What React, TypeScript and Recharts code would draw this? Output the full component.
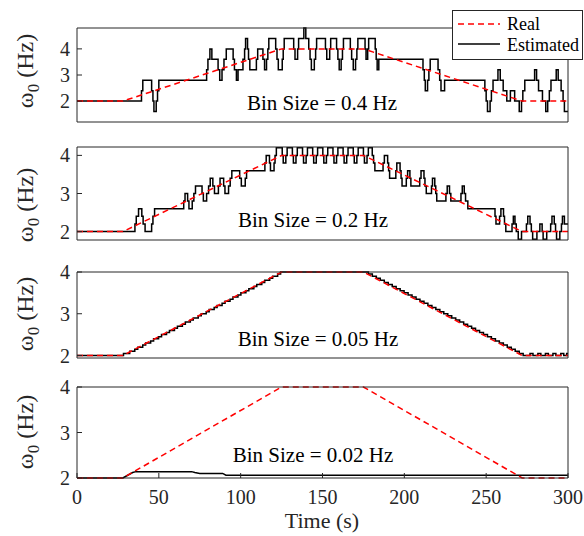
import React from 'react';
import { LineChart, Line, XAxis, YAxis } from 'recharts';

const FONT = "'Liberation Serif', 'Times New Roman', Times, 'DejaVu Serif', serif";
const INK = '#262626';

const timeTicks = [0, 50, 100, 150, 200, 250, 300];
const freqTicks = [2, 3, 4];

// true frequency profile
const realTime = [0, 28, 125, 175, 272, 300];
const realFreq = [2, 2, 4, 4, 2, 2];

// estimated frequency, [time (s), freq (Hz)] at every change
const est04: [number, number][] = [
  [0, 2.0], [39.4, 2.4], [40.2, 2.8],
  [45.6, 2.4], [46.4, 2.0], [47.0, 1.6], [48.4, 2.0], [49.2, 2.4], [50.0, 2.8],
  [79.2, 3.2], [80.0, 3.6], [81.2, 4.0], [82.4, 3.6],
  [86.2, 3.2], [87.2, 2.8], [88.6, 3.2], [89.8, 3.6], [91.2, 4.0],
  [95.4, 3.6], [96.2, 3.2], [97.4, 2.8], [98.4, 3.2],
  [101.4, 3.6], [102.4, 4.0], [103.0, 4.4], [104.2, 4.0], [104.8, 3.6], [105.6, 3.2],
  [109.6, 3.6], [110.4, 4.0], [113.6, 3.6], [114.6, 3.2], [115.8, 3.6], [116.6, 4.0], [117.2, 4.4],
  [121.4, 4.0], [122.2, 3.6], [123.0, 3.2], [125.4, 3.6], [126.0, 4.0], [126.6, 4.4],
  [132.4, 4.0], [133.2, 3.6], [134.8, 4.0], [135.4, 4.4], [138.6, 4.8], [139.8, 4.4],
  [141.6, 4.0], [142.4, 3.6], [143.2, 3.2], [145.0, 3.6], [145.8, 4.0], [146.4, 4.4],
  [151.8, 4.0], [152.6, 3.6], [154.4, 4.0], [155.0, 4.4],
  [158.6, 4.0], [159.4, 3.6], [160.2, 3.2], [161.4, 3.6], [162.2, 4.0], [162.8, 4.4],
  [167.0, 4.0], [167.8, 3.6], [168.8, 3.2], [170.2, 3.6], [171.0, 4.0], [171.6, 4.4],
  [176.0, 4.0], [176.6, 3.6], [177.6, 4.0], [178.2, 4.4],
  [182.2, 4.0], [182.8, 3.6], [183.4, 3.2], [184.4, 3.6],
  [211.4, 3.2], [212.2, 2.8], [212.8, 2.4], [214.2, 2.8], [215.0, 3.2], [215.8, 3.6],
  [220.6, 3.2], [221.6, 2.8], [222.4, 2.4], [224.6, 2.8],
  [249.2, 2.4], [250.0, 2.0], [250.8, 1.6], [252.4, 2.0], [253.2, 2.4], [254.2, 2.8],
  [257.2, 3.2], [258.6, 2.8], [260.4, 2.4], [262.6, 2.0], [264.8, 2.4], [267.4, 2.0],
  [270.2, 1.6], [271.6, 2.0], [272.4, 2.4], [273.6, 2.8], [279.6, 3.2], [280.8, 2.8],
  [282.0, 2.4], [284.4, 2.0], [286.4, 1.6], [287.6, 2.0], [288.6, 2.4], [289.6, 2.8],
  [292.8, 3.2], [294.0, 2.8], [295.8, 2.4], [297.0, 2.0], [297.8, 1.6], [300, 1.6],
];

const est02: [number, number][] = [
  [0, 2.0], [35.4, 2.2], [36.2, 2.4], [37.6, 2.6], [39.6, 2.4], [40.4, 2.2], [41.6, 2.0],
  [45.6, 2.2], [46.4, 2.4], [47.4, 2.6],
  [65.2, 2.8], [66.0, 3.0], [67.6, 2.8], [68.4, 2.6], [70.4, 2.8], [71.4, 3.0], [72.4, 3.2],
  [76.4, 3.0], [77.2, 2.8], [79.2, 3.0], [80.4, 3.2], [81.4, 3.4], [83.0, 3.2], [84.0, 3.0],
  [86.4, 3.2], [87.4, 3.4], [89.6, 3.2], [90.4, 3.0], [92.6, 3.2], [93.6, 3.4], [94.6, 3.6],
  [99.4, 3.4], [100.4, 3.2], [102.8, 3.4], [103.6, 3.6],
  [114.8, 3.8], [115.6, 4.0], [117.6, 3.8], [118.2, 3.6], [120.4, 3.8], [121.0, 4.0], [121.8, 4.2],
  [125.4, 4.0], [126.0, 3.8], [127.6, 4.0], [128.4, 4.2],
  [131.6, 4.0], [132.2, 3.8], [133.8, 4.0], [134.6, 4.2],
  [137.8, 4.0], [138.4, 3.8], [140.0, 4.0], [140.8, 4.2],
  [144.0, 4.0], [144.6, 3.8], [146.2, 4.0], [147.0, 4.2],
  [150.2, 4.0], [150.8, 3.8], [152.4, 4.0], [153.2, 4.2],
  [156.4, 4.0], [157.0, 3.8], [158.6, 4.0], [159.4, 4.2],
  [162.6, 4.0], [163.2, 3.8], [164.8, 4.0], [165.6, 4.2],
  [168.8, 4.0], [169.4, 3.8], [171.0, 4.0], [171.8, 4.2],
  [175.0, 4.0], [175.6, 3.8], [177.2, 4.0], [178.0, 4.2],
  [180.4, 4.0], [181.2, 3.8], [182.0, 3.6],
  [187.0, 3.8], [187.8, 4.0], [189.8, 3.8], [190.4, 3.6], [191.0, 3.4],
  [194.8, 3.6], [195.4, 3.8], [197.4, 3.6], [198.0, 3.4], [198.6, 3.2],
  [201.2, 3.4], [202.0, 3.6], [203.4, 3.4], [204.0, 3.2],
  [209.4, 3.4], [210.2, 3.6], [212.0, 3.4], [212.6, 3.2], [213.4, 3.0],
  [216.6, 3.2], [217.2, 3.4], [218.6, 3.2], [219.2, 3.0], [219.8, 2.8],
  [225.4, 3.0], [226.2, 3.2], [227.6, 3.0], [228.4, 2.8],
  [234.6, 3.0], [235.4, 3.2], [236.6, 3.0], [237.4, 2.8], [238.8, 2.6],
  [255.4, 2.4], [256.0, 2.2], [258.2, 2.4], [259.0, 2.6], [260.6, 2.4], [261.2, 2.2], [262.0, 2.0],
  [265.8, 2.2], [266.6, 2.4], [267.6, 2.2], [268.4, 2.0], [269.6, 1.8], [271.6, 2.0],
  [274.6, 2.2], [275.4, 2.4], [276.8, 2.2], [277.6, 2.0], [278.4, 1.8], [281.0, 2.0],
  [282.8, 2.2], [284.2, 2.0], [284.8, 1.8], [287.0, 2.0], [289.4, 2.2], [290.2, 2.4],
  [291.6, 2.2], [292.4, 2.0], [293.0, 1.8], [295.0, 2.0], [296.0, 2.2], [296.6, 2.4],
  [297.8, 2.2], [300, 2.2],
];

const est005: [number, number][] = [
  [0, 2.0], [28.4, 2.05], [32.2, 2.1], [35.3, 2.15], [37.1, 2.2], [40.15, 2.25], [41.95, 2.3],
  [45.0, 2.35], [46.8, 2.4], [49.85, 2.45], [51.65, 2.5], [54.7, 2.55], [56.5, 2.6],
  [59.55, 2.65], [61.35, 2.7], [64.4, 2.75], [66.2, 2.8], [69.25, 2.85], [71.05, 2.9],
  [74.1, 2.95], [75.9, 3.0], [78.95, 3.05], [80.75, 3.1], [83.8, 3.15], [85.6, 3.2],
  [88.65, 3.25], [90.45, 3.3], [93.5, 3.35], [95.3, 3.4], [98.35, 3.45], [100.15, 3.5],
  [103.2, 3.55], [105.0, 3.6], [108.05, 3.65], [109.85, 3.7], [112.9, 3.75], [114.7, 3.8],
  [117.75, 3.85], [119.55, 3.9], [122.6, 3.95], [124.4, 4.0],
  [178.05, 3.95], [180.45, 3.9], [182.9, 3.85], [185.3, 3.8], [187.75, 3.75], [190.15, 3.7],
  [192.6, 3.65], [195.0, 3.6], [197.45, 3.55], [199.85, 3.5], [202.3, 3.45], [204.7, 3.4],
  [207.15, 3.35], [209.55, 3.3], [212.0, 3.25], [214.4, 3.2], [216.85, 3.15], [219.25, 3.1],
  [221.7, 3.05], [224.1, 3.0], [226.55, 2.95], [228.95, 2.9], [231.4, 2.85], [233.8, 2.8],
  [236.25, 2.75], [238.65, 2.7], [241.1, 2.65], [243.5, 2.6], [245.95, 2.55], [248.35, 2.5],
  [250.8, 2.45], [253.2, 2.4], [255.65, 2.35], [258.05, 2.3], [260.5, 2.25], [262.9, 2.2],
  [265.35, 2.15], [267.75, 2.1], [270.2, 2.05], [272.6, 2.0],
  [276.8, 2.05], [278.6, 2.0], [281.6, 2.05], [283.4, 2.0], [286.2, 2.05], [288.0, 2.0],
  [290.8, 2.05], [292.6, 2.0], [295.6, 2.05], [297.4, 2.0], [299.2, 2.05], [300, 2.05],
];

const est002: [number, number][] = [
  [0, 2.0], [28, 2.0], [31, 2.06], [34, 2.12], [36, 2.14], [70, 2.14], [72, 2.12],
  [75, 2.1], [89, 2.1], [91, 2.06], [300, 2.06],
];

const realData = realTime.map((t, i) => ({ t, v: realFreq[i] }));
const toRows = (pts: [number, number][]) => pts.map(([t, v]) => ({ t, v }));

type PanelProps = {
  top: number;
  plotH: number;
  domain: [number, number];
  est: [number, number][];
  curve: 'stepAfter' | 'linear';
  bin: string;
  binX: number;
  binY: number;
  labelY: number;
  showTime?: boolean;
};

const tickFont = { fontFamily: FONT, fontSize: 20, fill: INK };
const axisStroke = { stroke: INK };

const Panel = ({ top, plotH, domain, est, curve, bin, binX, binY, labelY, showTime }: PanelProps) => {
  // axes with zero size are skipped by recharts, so the box sides get 1px
  const mt = 14;
  const xh = showTime ? 36 : 1;
  const mb = showTime ? 12 : 11;
  return (
    <>
      <div style={{ position: 'absolute', left: 0, top: top - mt - 1 }}>
        <LineChart
          width={584}
          height={plotH + mt + 1 + mb + xh}
          margin={{ top: mt, right: 15, bottom: mb, left: 47 }}
          style={{ overflow: 'visible' }}
        >
          <XAxis
            dataKey="t"
            type="number"
            domain={[0, 300]}
            ticks={timeTicks}
            interval={0}
            height={xh}
            tickSize={-5}
            tickMargin={17}
            tick={showTime ? tickFont : false}
            axisLine={axisStroke}
            tickLine={axisStroke}
          />
          <XAxis
            xAxisId="top"
            orientation="top"
            dataKey="t"
            type="number"
            domain={[0, 300]}
            ticks={timeTicks}
            interval={0}
            height={1}
            tickSize={-5}
            tick={false}
            axisLine={axisStroke}
            tickLine={axisStroke}
          />
          <YAxis
            type="number"
            domain={domain}
            ticks={freqTicks}
            interval={0}
            width={30}
            tickSize={-5}
            tickMargin={12}
            tick={tickFont}
            axisLine={axisStroke}
            tickLine={axisStroke}
          />
          <YAxis
            yAxisId="right"
            orientation="right"
            type="number"
            domain={domain}
            ticks={freqTicks}
            interval={0}
            width={1}
            tickSize={-5}
            tick={false}
            axisLine={axisStroke}
            tickLine={axisStroke}
          />
          <Line
            data={toRows(est)}
            dataKey="v"
            type={curve}
            stroke="#000000"
            strokeWidth={1.5}
            dot={false}
            isAnimationActive={false}
          />
          <Line
            data={realData}
            dataKey="v"
            type="linear"
            stroke="#ff0000"
            strokeWidth={1.5}
            strokeDasharray="6 4"
            dot={false}
            isAnimationActive={false}
          />
          <Line
            xAxisId="top"
            yAxisId="right"
            data={realData}
            dataKey="v"
            stroke="none"
            dot={false}
            activeDot={false}
            isAnimationActive={false}
          />
        </LineChart>
      </div>
      <div
        style={{
          position: 'absolute',
          left: binX,
          top: binY,
          transform: 'translate(-50%, -50%)',
          whiteSpace: 'nowrap',
          fontFamily: FONT,
          fontSize: 21,
          color: '#000',
        }}
      >
        {bin}
      </div>
      <div
        style={{
          position: 'absolute',
          left: 25,
          top: labelY,
          transform: 'translate(-50%, -50%) rotate(-90deg)',
          whiteSpace: 'nowrap',
          fontFamily: FONT,
          fontSize: 24,
          lineHeight: '26px',
          color: INK,
        }}
      >
        ω<sub style={{ fontSize: 17, lineHeight: 0 }}>0</sub> (Hz)
      </div>
    </>
  );
};

export default function App() {
  return (
    <div
      style={{
        position: 'absolute',
        left: 0,
        top: 0,
        width: 584,
        height: 536,
        background: '#fff',
        overflow: 'hidden',
      }}
    >
      <Panel top={28} plotH={94} domain={[1.2, 4.8]} est={est04} curve="stepAfter"
        bin="Bin Size = 0.4 Hz" binX={322} binY={103} labelY={71} />
      <Panel top={147} plotH={93} domain={[1.78, 4.22]} est={est02} curve="stepAfter"
        bin="Bin Size = 0.2 Hz" binX={313} binY={220} labelY={205} />
      <Panel top={272} plotH={86} domain={[1.94, 4]} est={est005} curve="stepAfter"
        bin="Bin Size = 0.05 Hz" binX={318} binY={339} labelY={314} />
      <Panel top={387} plotH={91} domain={[2, 4]} est={est002} curve="linear"
        bin="Bin Size = 0.02 Hz" binX={313} binY={455} labelY={432} showTime />
      <div
        style={{
          position: 'absolute',
          left: 322,
          top: 521,
          transform: 'translate(-50%, -50%)',
          whiteSpace: 'nowrap',
          fontFamily: FONT,
          fontSize: 22,
          color: INK,
        }}
      >
        Time (s)
      </div>
      <svg style={{ position: 'absolute', left: 452, top: 10 }} width={131} height={50}>
        <rect x={0.5} y={0.5} width={130} height={49} fill="#fff" stroke={INK} />
        <line x1={6} y1={14} x2={48} y2={14} stroke="#ff0000" strokeWidth={1.5} strokeDasharray="6 4" />
        <line x1={6} y1={34} x2={48} y2={34} stroke="#000" strokeWidth={1.5} />
        <text x={55} y={14} dominantBaseline="central" fontFamily={FONT} fontSize={18} fill="#000">Real</text>
        <text x={55} y={35} dominantBaseline="central" fontFamily={FONT} fontSize={18} fill="#000">Estimated</text>
      </svg>
    </div>
  );
}
